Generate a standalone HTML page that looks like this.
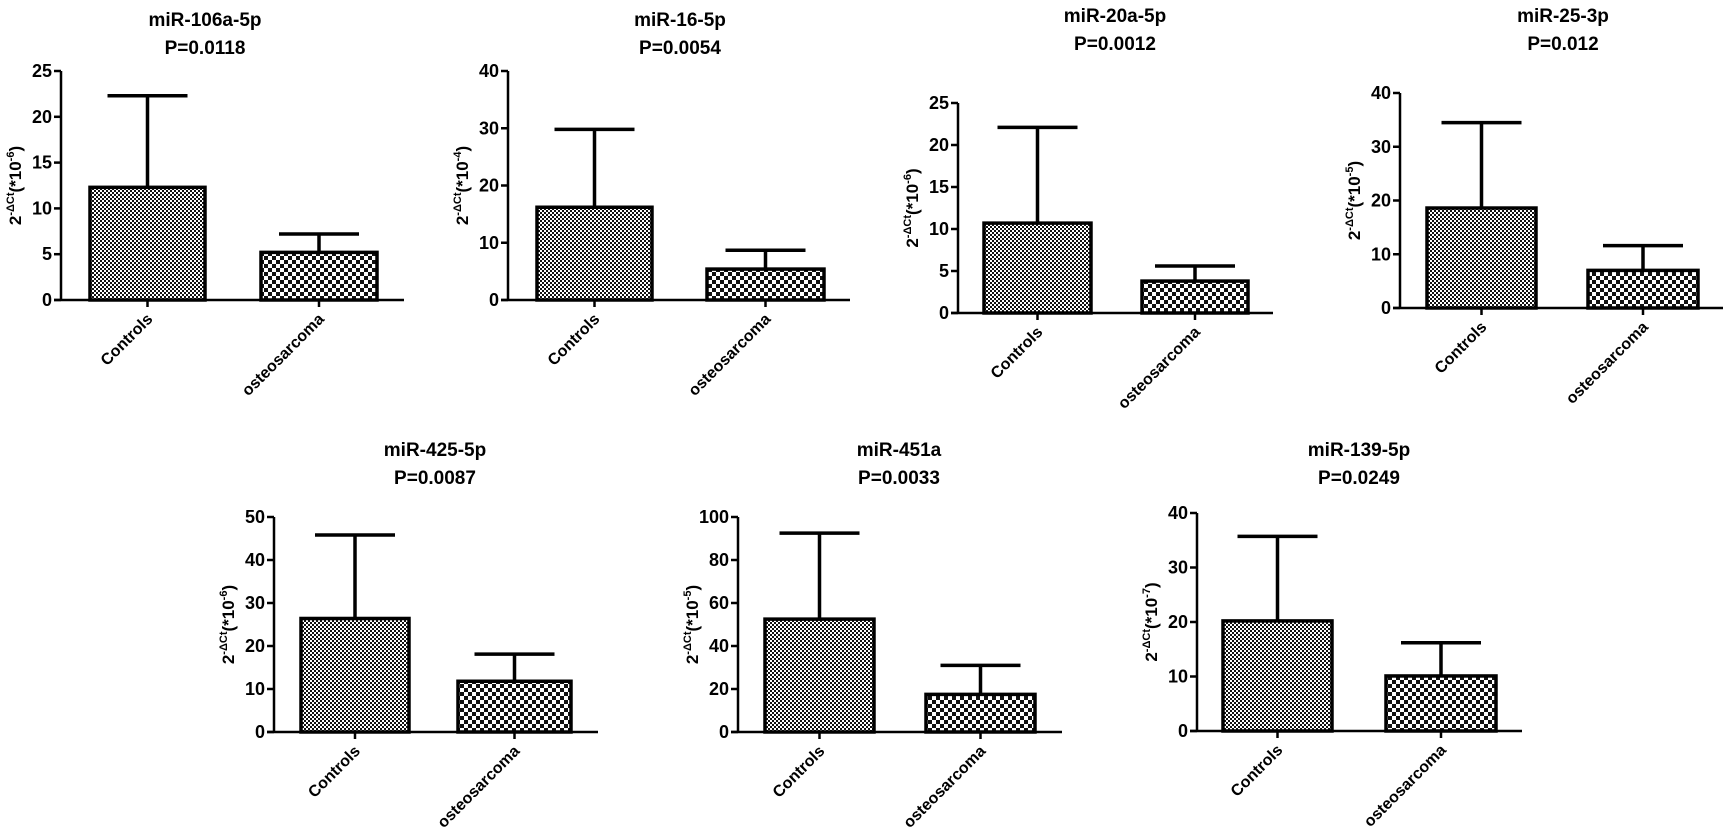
<!DOCTYPE html>
<html><head><meta charset="utf-8">
<style>
html,body{margin:0;padding:0;background:#fff;}
svg{display:block;font-family:"Liberation Sans",Arial,sans-serif;font-weight:bold;}
</style></head>
<body>
<svg id="chart" width="1730" height="832" viewBox="0 0 1730 832" xmlns="http://www.w3.org/2000/svg">
<defs>
<pattern id="fine" width="4" height="4" patternUnits="userSpaceOnUse">
<rect width="4" height="4" fill="#fff"/><rect width="2" height="2" fill="#111"/><rect x="2" y="2" width="2" height="2" fill="#111"/>
</pattern>
<pattern id="coarse" width="8" height="8" patternUnits="userSpaceOnUse">
<rect width="8" height="8" fill="#fff"/><rect width="4" height="4" fill="#111"/><rect x="4" y="4" width="4" height="4" fill="#111"/>
</pattern>
</defs>
</svg>
<script>
const titles = ["miR-106a-5p","miR-16-5p","miR-20a-5p","miR-25-3p","miR-425-5p","miR-451a","miR-139-5p"];
const pvalues = ["P=0.0118","P=0.0054","P=0.0012","P=0.012","P=0.0087","P=0.0033","P=0.0249"];
const exponents = ["-6","-4","-6","-5","-6","-5","-7"];
const categories = ["Controls","osteosarcoma"];
const controlMeans = [12.3,16.2,10.7,18.6,26.4,52.5,20.2];
const controlErr = [22.3,29.8,22.1,34.5,45.8,92.5,35.7];
const osteoMeans = [5.2,5.4,3.8,7.0,11.8,17.5,10.1];
const osteoErr = [7.2,8.7,5.6,11.6,18.1,31,16.2];
const yMax = [25,40,25,40,50,100,40];
const yStep = [5,10,5,10,10,20,10];

// layout (pixels)
const layout = [
 {ax:61, top:71, base:300, b1:[90,205], b2:[261,377], end:404, tx:205, ty:19},
 {ax:508, top:71, base:300, b1:[537,652], b2:[707,824], end:850, tx:680, ty:19},
 {ax:958, top:103, base:313, b1:[984,1091], b2:[1142,1248], end:1273, tx:1115, ty:15},
 {ax:1400, top:93, base:308, b1:[1427,1536], b2:[1588,1698], end:1723, tx:1563, ty:15},
 {ax:274, top:517, base:732, b1:[301,409], b2:[458,571], end:598, tx:435, ty:449},
 {ax:738, top:517, base:732, b1:[765,874], b2:[926,1035], end:1062, tx:899, ty:449},
 {ax:1197, top:513, base:731, b1:[1223,1332], b2:[1386,1496], end:1522, tx:1359, ty:449}
];
const NS="http://www.w3.org/2000/svg";
const svg=document.getElementById('chart');
function mk(tag,attrs,parent){const e=document.createElementNS(NS,tag);for(const k in attrs)e.setAttribute(k,attrs[k]);(parent||svg).appendChild(e);return e;}

for(let i=0;i<titles.length;i++){
  const L=layout[i];
  const g=mk('g',{});
  
  
  const y=v=>L.base-(v/yMax[i])*(L.base-L.top);
  const t1=mk('text',{x:L.tx,y:L.ty+7,'text-anchor':'middle','font-size':19},g);
  t1.textContent=titles[i];
  
  
  const t2=mk('text',{x:L.tx,y:L.ty+35,'text-anchor':'middle','font-size':19},g);
  t2.textContent=pvalues[i];
  
  
  const bars=[[L.b1,controlMeans[i],controlErr[i],'url(#fine)'],[L.b2,osteoMeans[i],osteoErr[i],'url(#coarse)']];
  bars.forEach((b,j)=>{
    const cx=(b[0][0]+b[0][1])/2;
    const eb=mk('path',{d:`M${cx} ${y(b[1])}V${y(b[2])}M${cx-40} ${y(b[2])}H${cx+40}`,stroke:'#000','stroke-width':3.5,fill:'none'},g);
    
    
    const r=mk('rect',{x:b[0][0],y:y(b[1]),width:b[0][1]-b[0][0],height:L.base-y(b[1]),fill:b[3],stroke:'#000','stroke-width':3.5},g);
    
    
    const tk=mk('line',{x1:cx,x2:cx,y1:L.base,y2:L.base+7,stroke:'#000','stroke-width':2.5},g);
    
    
    const lb=mk('text',{x:cx+6,y:L.base+20,'text-anchor':'end','font-size':16,transform:`rotate(-45 ${cx+6} ${L.base+20})`},g);
    lb.textContent=categories[j];
    
    
  });
  const ya=mk('line',{x1:L.ax,x2:L.ax,y1:L.top,y2:L.base,stroke:'#000','stroke-width':2.5},g);
  
  
  const xa=mk('line',{x1:L.ax-7,x2:L.end,y1:L.base,y2:L.base,stroke:'#000','stroke-width':2.5},g);
  
  
  for(let v=0;v<=yMax[i];v+=yStep[i]){
    const tk=mk('line',{x1:L.ax-7,x2:L.ax,y1:y(v),y2:y(v),stroke:'#000','stroke-width':2.5},g);
    
    
    const tl=mk('text',{x:L.ax-9,y:y(v)+6,'text-anchor':'end','font-size':18},g);
    tl.textContent=v;
    
    
  }
  const cy=(L.top+L.base)/2;
  const yt=mk('text',{x:L.ax-40,y:cy,'text-anchor':'middle','font-size':17,transform:`rotate(-90 ${L.ax-40} ${cy})`},g);
  yt.innerHTML='2<tspan dy="-7" font-size="11">-ΔCt</tspan><tspan dy="7">(*10</tspan><tspan dy="-7" font-size="11">'+exponents[i]+'</tspan><tspan dy="7">)</tspan>';
  
  
}
</script>
</body></html>
